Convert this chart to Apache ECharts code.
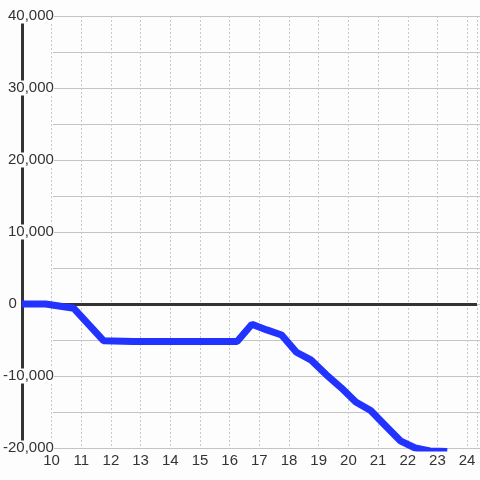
<!DOCTYPE html>
<html>
<head>
<meta charset="utf-8">
<script src="https://cdn.jsdelivr.net/npm/echarts@6/dist/echarts.min.js"></script>
<style>
  html, body { margin: 0; padding: 0; background: #fcfdfc; }
</style>
</head>
<body>
<div id="chart" style="width: 480px; height: 480px;"></div>
<script>
// x values (hours) and running total
const hours = [9, 9.8, 10.75, 11.75, 12.75, 13.75, 14.75, 15.75, 16.25, 16.75, 17.25, 17.75,
  18.25, 18.75, 19.25, 19.75, 20.25, 20.75, 21.25, 21.75, 22.25, 22.75, 23.33];
const totals = [0, 0, -600, -5100, -5200, -5200, -5200, -5200, -5200, -2800, -3600, -4300,
  -6700, -7800, -9800, -11600, -13600, -14800, -16900, -19000, -20000, -20400, -20500];
const xMin = 9, xMax = 24.333;
const yMin = -20000, yMax = 40000;

const bg = "#fcfdfc";
const font = "Liberation Sans";

const points = hours.map((h, i) => [h, totals[i]]);

let myChart = echarts.init(document.getElementById("chart"));
myChart.setOption({
  backgroundColor: bg,
  animation: false,
  grid: [
    { left: 20, right: 0, top: 16, bottom: 32 },
    { left: 53, right: 0, top: 16, bottom: 32 } // horizontal grid lines start right of labels
  ],
  xAxis: [
    {
      type: "value",
      gridIndex: 0,
      min: xMin,
      max: xMax,
      interval: 1,
      axisLine: { show: false },
      axisTick: { show: false },
      splitLine: { show: true, lineStyle: { color: "#c8c8c8", type: [2, 2], width: 1 } },
      axisLabel: {
        margin: 5,
        fontSize: 15,
        fontFamily: font,
        color: "#333",
        formatter: function (v) {
          return (v > xMin && Number.isInteger(v)) ? String(v) : "";
        }
      }
    },
    { type: "value", gridIndex: 1, min: xMin, max: xMax, show: false }
  ],
  yAxis: [
    {
      type: "value",
      gridIndex: 0,
      min: yMin,
      max: yMax,
      interval: 10000,
      axisLine: { show: true, lineStyle: { color: "#333", width: 3 } },
      axisTick: { show: false },
      splitLine: { show: false },
      axisLabel: {
        align: "right",
        margin: -32,
        formatter: function (v) {
          if (v === 0) return "{z|0}";
          return "{n|" + v.toLocaleString("en-US") + "}";
        },
        rich: {
          n: { fontSize: 15, fontFamily: font, color: "#333", lineHeight: 16, backgroundColor: bg },
          z: { fontSize: 15, fontFamily: font, color: "#333", lineHeight: 16, padding: [0, 37, 0, 0] }
        }
      }
    },
    {
      type: "value",
      gridIndex: 1,
      min: yMin,
      max: yMax,
      interval: 5000,
      axisLine: { show: false },
      axisTick: { show: false },
      axisLabel: { show: false },
      splitLine: { show: true, lineStyle: { color: "#c4c4c4", width: 1 } }
    }
  ],
  series: [
    {
      // zero line
      type: "line",
      xAxisIndex: 0,
      yAxisIndex: 0,
      data: [],
      z: 1,
      markLine: {
        silent: true,
        symbol: ["none", "none"],
        label: { show: false },
        lineStyle: { color: "#333", width: 3, type: "solid" },
        data: [{ yAxis: 0 }]
      }
    },
    {
      type: "line",
      xAxisIndex: 0,
      yAxisIndex: 0,
      z: 5,
      data: points,
      showSymbol: false,
      lineStyle: { color: "#2233ff", width: 7, cap: "butt", join: "bevel" }
    }
  ]
});
</script>
</body>
</html>
